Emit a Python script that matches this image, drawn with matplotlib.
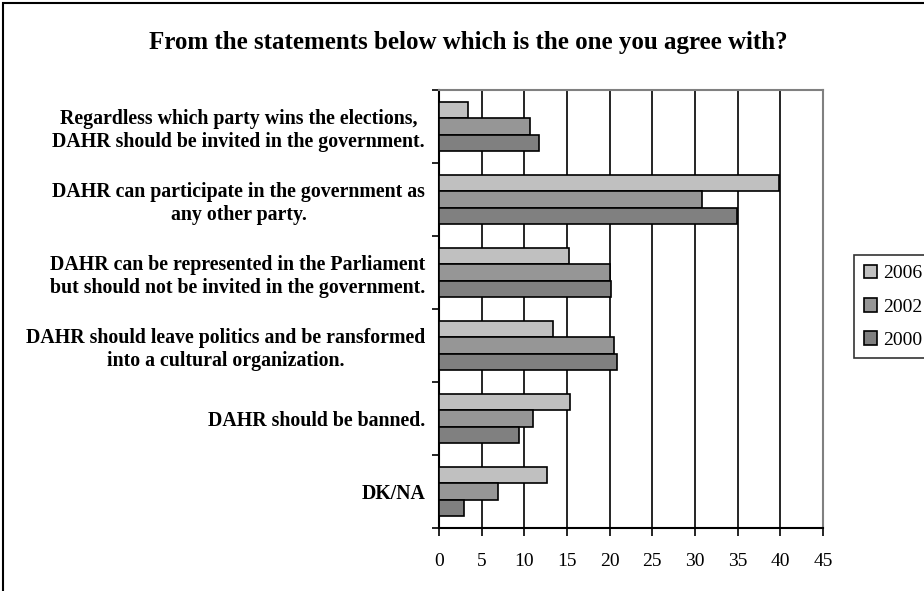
import numpy as np
import matplotlib.pyplot as plt
from matplotlib.patches import Rectangle

plt.rcParams['font.family'] = ['Liberation Serif', 'DejaVu Serif']

categories = [
    "Regardless which party wins the elections,\nDAHR should be invited in the government.",
    "DAHR can participate in the government as\nany other party.",
    "DAHR can be represented in the Parliament\nbut should not be invited in the government.",
    "DAHR should leave politics and be ransformed\ninto a cultural organization.",
    "DAHR should be banned.",
    "DK/NA",
]
years = ["2006", "2002", "2000"]
v2006 = [3.4, 39.9, 15.2, 13.4, 15.4, 12.7]
v2002 = [10.7, 30.8, 20.0, 20.5, 11.0, 6.9]
v2000 = [11.7, 34.9, 20.2, 20.9, 9.4, 2.9]
colors = ["#c0c0c0", "#969696", "#808080"]

fig = plt.figure(figsize=(9.24, 5.91), dpi=100)
ax = fig.add_axes([439/924, 1-528/591, 384/924, 438/591])

y = np.arange(len(categories))
h = 0.22
for k, (vals, lab, c) in enumerate(zip([v2006, v2002, v2000], years, colors)):
    ax.barh(y + (k-1)*h, vals, height=h, color=c, edgecolor='black',
            linewidth=1.2, label=lab, zorder=3)

ax.set_xlim(0, 45)
ax.set_ylim(5.5, -0.5)
ax.set_xticks(np.arange(0, 46, 5))
ax.xaxis.grid(True, color='black', linewidth=1.2, zorder=0)
ax.tick_params(axis='x', length=6, width=1.2, pad=12, labelsize=14)
ax.set_yticks(y)
ax.set_yticklabels(categories, fontweight='bold', fontsize=14.3)
ax.set_yticks(np.arange(-0.5, 6, 1), minor=True)
ax.tick_params(axis='y', which='major', length=0, pad=10)
ax.tick_params(axis='y', which='minor', length=5, width=1.2)
for lbl in ax.get_yticklabels():
    lbl.set_multialignment('center')

ax.spines['left'].set_linewidth(1.5)
ax.spines['bottom'].set_linewidth(1.5)
ax.spines['top'].set_color('#808080')
ax.spines['right'].set_color('#808080')
ax.spines['top'].set_linewidth(1.5)
ax.spines['right'].set_linewidth(1.5)

fig.text(468/924, 1-43/591, "From the statements below which is the one you agree with?",
         ha='center', va='center', fontsize=18, fontweight='bold')

leg = ax.legend(loc='upper left', bbox_to_anchor=(854/924, 1-255/591),
                bbox_transform=fig.transFigure, fontsize=14, frameon=True,
                fancybox=False, handlelength=0.7, handleheight=0.7,
                handletextpad=0.3, borderpad=0.5, labelspacing=0.8,
                borderaxespad=0)
leg.get_frame().set_edgecolor('black')
leg.get_frame().set_linewidth(1.2)

fig.patches.append(Rectangle((3/924, -0.1), 1.2, 1.1 - 3/591, transform=fig.transFigure,
                             fill=False, edgecolor='black', linewidth=1.5))

fig.savefig('out.png', dpi=100)
